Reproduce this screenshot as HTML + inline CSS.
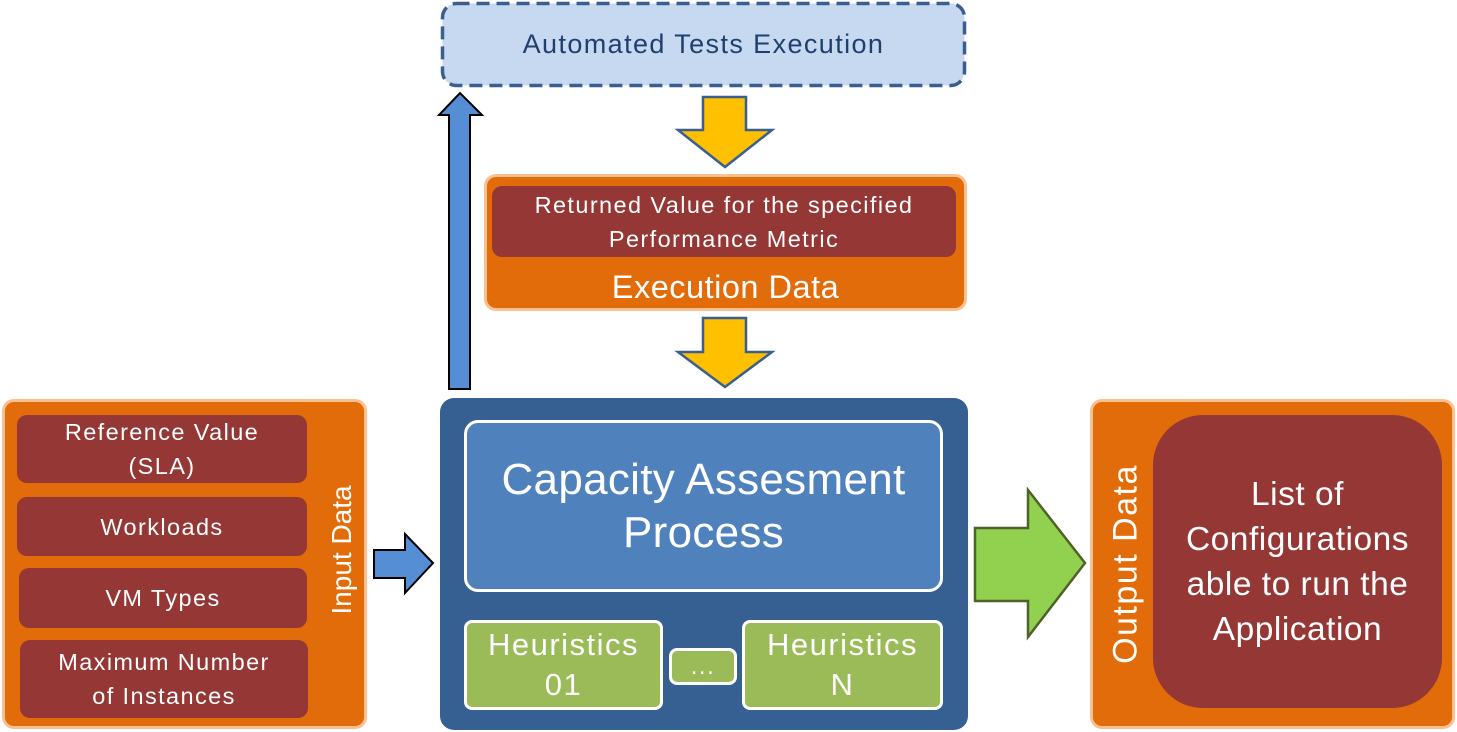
<!DOCTYPE html>
<html><head><meta charset="utf-8"><style>
body{margin:0;width:1457px;height:732px;background:#fff;position:relative;overflow:hidden;font-family:"Liberation Sans","DejaVu Sans",sans-serif;}
.a{position:absolute;box-sizing:border-box;display:flex;align-items:center;justify-content:center;text-align:center;color:#fff;}
.or{background:#e36c0a;border:3px solid #fac08f;border-radius:12px;}
.rd{background:#953735;border-radius:10px;font-size:23.5px;line-height:34px;letter-spacing:1.4px;}
.gr{background:#9bbb59;border:3px solid #fff;border-radius:8px;font-size:31px;line-height:40px;letter-spacing:1.5px;}
.rot{position:absolute;transform:translate(-50%,-50%) rotate(-90deg);color:#fff;white-space:nowrap;}
</style></head><body>
<svg width="1457" height="100" style="position:absolute;left:0;top:0">
<rect x="442.5" y="3.5" width="522" height="82" rx="14" fill="#c6d9f0" stroke="#3a5f8f" stroke-width="3.5" stroke-dasharray="13 7"/>
</svg>
<div class="a" style="left:441px;top:2px;width:525px;height:85px;color:#1f3f6e;font-size:27px;letter-spacing:1.4px;">Automated Tests Execution</div>
<div class="a or" style="left:484px;top:174px;width:483px;height:137px;"></div>
<div class="a rd" style="left:492px;top:186px;width:464px;height:71px;">Returned Value for the specified<br>Performance Metric</div>
<div class="a" style="left:484px;top:266px;width:483px;height:42px;font-size:32.5px;letter-spacing:0.5px;">Execution Data</div>
<div class="a" style="left:440px;top:398px;width:528px;height:332px;background:#366092;border-radius:14px;"></div>
<div class="a" style="left:464px;top:420px;width:479px;height:172px;background:#4f81bd;border:3px solid #fff;border-radius:14px;font-size:44px;line-height:53px;letter-spacing:0.3px;">Capacity Assesment<br>Process</div>
<div class="a gr" style="left:464px;top:620px;width:199px;height:90px;">Heuristics<br>01</div>
<div class="a gr" style="left:669px;top:648px;width:68px;height:37px;font-size:24px;line-height:20px;">...</div>
<div class="a gr" style="left:742px;top:620px;width:201px;height:90px;">Heuristics<br>N</div>
<div class="a or" style="left:2px;top:399px;width:365px;height:330px;"></div>
<div class="a rd" style="left:17px;top:415px;width:290px;height:68px;">Reference Value<br>(SLA)</div>
<div class="a rd" style="left:17px;top:497px;width:290px;height:59px;">Workloads</div>
<div class="a rd" style="left:19px;top:568px;width:288px;height:60px;">VM Types</div>
<div class="a rd" style="left:20px;top:640px;width:288px;height:78px;">Maximum Number<br>of Instances</div>
<div class="rot" style="left:342px;top:550px;font-size:28px;">Input Data</div>
<div class="a or" style="left:1090px;top:399px;width:365px;height:330px;"></div>
<div class="a" style="left:1153px;top:415px;width:289px;height:293px;background:#953735;border-radius:50px;font-size:33.5px;line-height:45px;letter-spacing:0.5px;">List of<br>Configurations<br>able to run the<br>Application</div>
<div class="rot" style="left:1126px;top:564px;font-size:34px;letter-spacing:1.5px;">Output Data</div>
<svg width="1457" height="732" style="position:absolute;left:0;top:0">
<polygon points="703,97 746,97 746,130 772,130 725,167 678,130 703,130" fill="#ffc000" stroke="#3a5f8f" stroke-width="2.5"/>
<polygon points="703,318 746,318 746,352 772,352 725,387 678,352 703,352" fill="#ffc000" stroke="#3a5f8f" stroke-width="2.5"/>
<polygon points="449,389 470,389 470,115 482,115 460,93 439,115 449,115" fill="#558ed5" stroke="#000" stroke-width="2"/>
<polygon points="374,550 405,550 405,534 433,563 405,593 405,578 374,578" fill="#558ed5" stroke="#000" stroke-width="2"/>
<polygon points="975,528 1028,528 1028,490 1085,563 1028,637 1028,601 975,601" fill="#92d050" stroke="#4f6228" stroke-width="2.5"/>
</svg>
</body></html>
